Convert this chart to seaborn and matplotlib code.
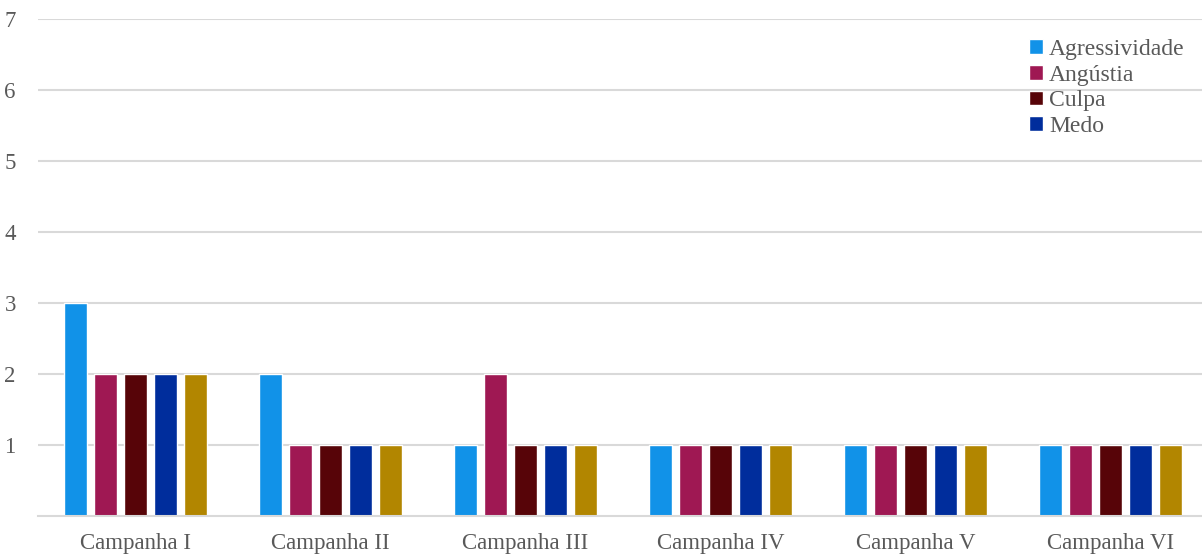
import matplotlib
matplotlib.use("Agg")
import matplotlib.pyplot as plt
import seaborn as sns
import pandas as pd

campanhas = ["Campanha I", "Campanha II", "Campanha III", "Campanha IV", "Campanha V", "Campanha VI"]
agressividade = [3, 2, 1, 1, 1, 1]
angustia = [2, 1, 2, 1, 1, 1]
culpa = [2, 1, 1, 1, 1, 1]
medo = [2, 1, 1, 1, 1, 1]
outra = [2, 1, 1, 1, 1, 1]

series = {
    "Agressividade": agressividade,
    "Angústia": angustia,
    "Culpa": culpa,
    "Medo": medo,
    "Outra": outra,
}
cores = ["#1192E8", "#9F1853", "#570408", "#002D9C", "#B28600"]

df = pd.DataFrame(
    [(c, nome, v) for nome, vals in series.items() for c, v in zip(campanhas, vals)],
    columns=["campanha", "emocao", "valor"],
)

sns.set_style("white")
plt.rcParams["font.family"] = ["Liberation Serif", "DejaVu Serif"]

fig = plt.figure(figsize=(12.02, 5.6), dpi=100)
ax = fig.add_axes([38 / 1202, 44 / 560, 1170 / 1202, 497 / 560])

sns.barplot(data=df, x="campanha", y="valor", hue="emocao", palette=cores,
            width=0.77, gap=0.23, ax=ax, saturation=1)

ax.set_ylim(0, 7)
ax.set_xlim(-0.5, 5.5)
ax.set_yticks(range(1, 8))
ax.yaxis.grid(True, color="#d9d9d9", linewidth=1.5)
ax.set_axisbelow(True)
for s in ["top", "right", "left"]:
    ax.spines[s].set_visible(False)
ax.spines["bottom"].set_color("#d9d9d9")
ax.spines["bottom"].set_linewidth(1.5)
ax.tick_params(axis="both", length=0, labelsize=16.5, colors="#595959")
ax.tick_params(axis="y", pad=16)
ax.tick_params(axis="x", pad=12)
ax.set_xlabel("")
ax.set_ylabel("")

# a quinta série (dourada) não aparece na legenda original
handles, labels = ax.get_legend_handles_labels()
ax.legend(handles[:4], labels[:4], loc="upper right", bbox_to_anchor=(0.98, 0.96),
          frameon=False, fontsize=17, handlelength=0.6, handleheight=0.6,
          handletextpad=0.25, labelspacing=0.2, borderpad=0, borderaxespad=0,
          labelcolor="#595959")

fig.savefig("out.png", dpi=100)
